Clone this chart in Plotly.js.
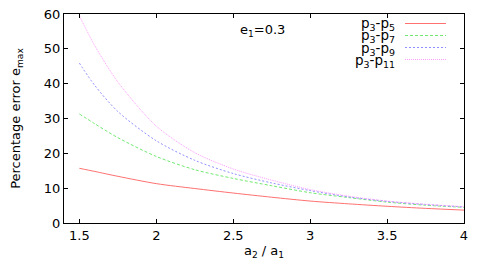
<!DOCTYPE html>
<html><head><meta charset="utf-8">
<script src="https://cdn.plot.ly/plotly-3.0.1.min.js"></script>
<style>html,body{margin:0;padding:0;background:#fff}#c{width:491px;height:273px}</style>
</head><body><div id="c"></div>
<script>
const ratio = [1.5, 1.6, 1.75, 2, 2.25, 2.5, 2.75, 3, 3.25, 3.5, 3.75, 4];
const p3p5  = [15.7, 14.8, 13.4, 11.3, 9.9, 8.6, 7.4, 6.3, 5.5, 4.8, 4.2, 3.7];
const p3p7  = [31.3, 28.5, 24.5, 19.1, 15.3, 12.8, 10.7, 8.7, 7.3, 6.0, 5.1, 4.5];
const p3p9  = [45.9, 39.5, 32.0, 23.6, 18.0, 14.2, 11.5, 9.3, 7.5, 6.2, 5.3, 4.6];
const p3p11 = [59.5, 50.9, 40.5, 27.8, 20.2, 15.5, 12.3, 9.6, 7.7, 6.3, 5.4, 4.7];
const seriesNames = ['p<sub>3</sub>-p<sub>5</sub>','p<sub>3</sub>-p<sub>7</sub>','p<sub>3</sub>-p<sub>9</sub>','p<sub>3</sub>-p<sub>11</sub>'];
const xTicks = [1.5, 2, 2.5, 3, 3.5, 4];
const yTicks = [0, 10, 20, 30, 40, 50, 60];

const FONT = 'DejaVu Sans, Liberation Sans, Arial, sans-serif';
const colors = ['#ff7070', '#72e872', '#9090ff', '#ff9cff'];
const dashes = ['solid', '3px,2px', '2px,2px', '1px,1px'];
const data = [p3p5, p3p7, p3p9, p3p11];

const traces = data.map((y, i) => ({
  x: ratio, y: y, type: 'scatter', mode: 'lines', name: seriesNames[i],
  line: {color: colors[i], width: 1, dash: dashes[i], shape: 'spline', smoothing: 0.8},
  showlegend: false, hoverinfo: 'skip'
}));

const L = 64, R = 464, T = 14, B = 223;
const pw = R - L, ph = B - T;
const px = v => (v - L) / pw;
const py = v => (B - v) / ph;
const rows = [23.5, 35.5, 47.5, 59.5];
const shapes = [], annotations = [];
rows.forEach((ry, i) => {
  shapes.push({type: 'line', xref: 'paper', yref: 'paper', x0: px(405), x1: px(446), y0: py(ry), y1: py(ry),
    line: {color: colors[i], width: 1, dash: dashes[i]}});
  annotations.push({xref: 'paper', yref: 'paper', x: px(397), y: py(ry + 1), xanchor: 'right', yanchor: 'middle',
    text: seriesNames[i], showarrow: false, font: {size: 13.5, color: '#000', family: FONT}});
});
annotations.push({xref: 'paper', yref: 'paper', x: px(262), y: py(31), xanchor: 'center', yanchor: 'middle',
  text: 'e<sub>1</sub>=0.3', showarrow: false, font: {size: 13, color: '#000', family: FONT}});

const axisCommon = {showline: true, linecolor: '#000', linewidth: 1, mirror: 'ticks', ticks: 'inside',
  ticklen: 4, tickcolor: '#000', showgrid: false, zeroline: false,
  tickfont: {size: 13, color: '#000', family: FONT}};

const layout = {
  width: 491, height: 273,
  margin: {l: L, r: 491 - R, t: T, b: 273 - B},
  paper_bgcolor: '#fff', plot_bgcolor: '#fff',
  font: {family: FONT, color: '#000'},
  xaxis: Object.assign({}, axisCommon, {range: [1.4, 4], tickmode: 'array', tickvals: xTicks,
    ticktext: xTicks.map(String),
    title: {text: 'a<sub>2</sub> / a<sub>1</sub>', font: {size: 13, family: FONT}, standoff: 4}}),
  yaxis: Object.assign({}, axisCommon, {range: [0, 60], tickmode: 'array', tickvals: yTicks,
    ticktext: yTicks.map(String),
    title: {text: 'Percentage error e<sub>max</sub>', font: {size: 13, family: FONT}, standoff: 20}}),
  shapes: shapes, annotations: annotations, showlegend: false
};
Plotly.newPlot('c', traces, layout, {staticPlot: true, displayModeBar: false});
</script></body></html>
